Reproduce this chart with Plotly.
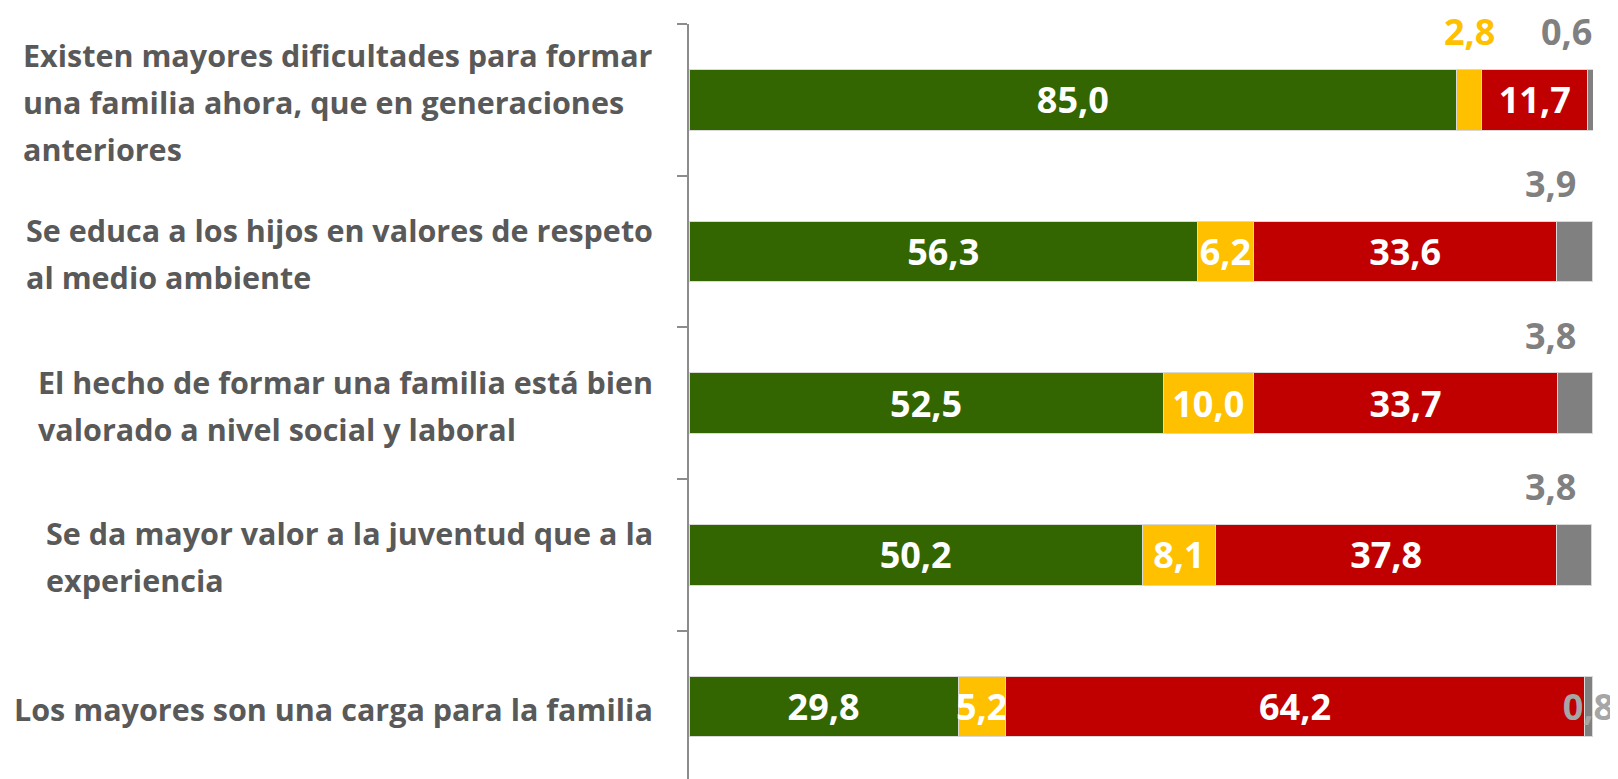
import plotly.graph_objects as go

categories = [
    "Existen mayores dificultades para formar<br>una familia ahora, que en generaciones<br>anteriores",
    "Se educa a los hijos en valores de respeto<br>al medio ambiente",
    "El hecho de formar una familia está bien<br>valorado a nivel social y laboral",
    "Se da mayor valor a la juventud que a la<br>experiencia",
    "Los mayores son una carga para la familia",
]
green_vals = [85.0, 56.3, 52.5, 50.2, 29.8]
yellow_vals = [2.8, 6.2, 10.0, 8.1, 5.2]
red_vals = [11.7, 33.6, 33.7, 37.8, 64.2]
gray_vals = [0.6, 3.9, 3.8, 3.8, 0.8]

# which labels are drawn outside (above) the bar
yellow_above = [True, False, False, False, False]
gray_above = [True, True, True, True, False]

FONT = "Open Sans"
LBL = 36
fmt = lambda v: f"{v:.1f}".replace(".", ",")

keys = list(range(len(categories)))

fig = go.Figure()
series = [
    ("green", green_vals, "#336600", [False] * 5),
    ("yellow", yellow_vals, "#FFC000", yellow_above),
    ("red", red_vals, "#C00000", [False] * 5),
    ("gray", gray_vals, "#808080", gray_above),
]
for name, vals, color, above in series:
    texts = ["" if above[i] else f"<b>{fmt(v)}</b>" for i, v in enumerate(vals)]
    fig.add_trace(go.Bar(
        y=keys, x=vals, orientation="h", name=name,
        marker=dict(color=color, line=dict(color="#D9D9D9", width=1)),
        text=texts, textposition="inside", insidetextanchor="middle",
        constraintext="none", textangle=0, cliponaxis=False,
        textfont=dict(family=FONT, size=LBL,
                      color="#A6A6A6" if name == "gray" else "white"),
        hoverinfo="skip",
    ))

annotations = []
# outside labels
for i in keys:
    g, y_, r, gr = green_vals[i], yellow_vals[i], red_vals[i], gray_vals[i]
    if yellow_above[i]:
        annotations.append(dict(
            x=g + y_ / 2, y=i, xref="x", yref="y", text=f"<b>{fmt(y_)}</b>",
            showarrow=False, yshift=68, xanchor="center", yanchor="middle",
            font=dict(family=FONT, size=LBL, color="#FFC000")))
    if gray_above[i]:
        annotations.append(dict(
            x=g + y_ + r + gr / 2, y=i, xref="x", yref="y", text=f"<b>{fmt(gr)}</b>",
            showarrow=False, yshift=68, xshift=-24, xanchor="center", yanchor="middle",
            font=dict(family=FONT, size=LBL, color="#808080")))

# category labels (left-aligned blocks, right-anchored)
CAT_SIZE = 30.5
for i, c in enumerate(categories):
    lines = c.split("<br>")
    txt = "<br>".join(f"<span style='font-size:{CAT_SIZE}px'><b>{ln}</b></span>" for ln in lines)
    annotations.append(dict(
        x=0, y=i, xref="paper", yref="y", text=txt, showarrow=False,
        xanchor="right", yanchor="middle", align="left", xshift=-34, yshift=-2,
        font=dict(family=FONT, size=36, color="#595959")))

fig.update_layout(
    barmode="stack",
    bargap=0.6,
    width=1610, height=771,
    margin=dict(l=681, r=25, t=16, b=0),
    plot_bgcolor="white", paper_bgcolor="white",
    showlegend=False,
    annotations=annotations,
    font=dict(family=FONT),
)
fig.update_xaxes(range=[0, 100.1], showgrid=False, zeroline=False,
                 showticklabels=False, showline=False, ticks="")
fig.update_yaxes(range=[4.477, -0.5], tickmode="array",
                 tickvals=[k - 0.5 for k in keys],
                 showticklabels=False, showgrid=False, zeroline=False,
                 showline=True, linecolor="#8C8C8C", linewidth=1.5,
                 ticks="outside", ticklen=10, tickcolor="#8C8C8C", tickwidth=1.5)

fig.write_html("out.html")
